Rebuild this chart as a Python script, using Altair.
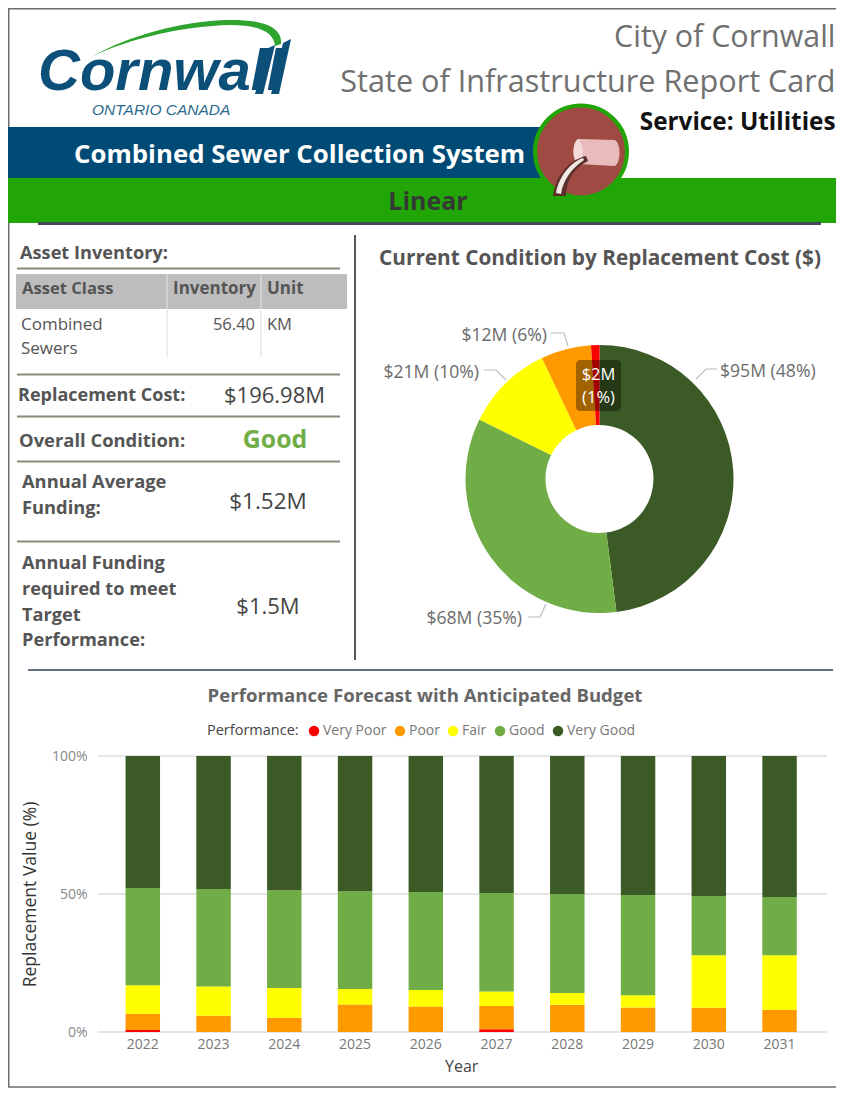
import re
import altair as alt
import pandas as pd

# ---------- data ----------
years = ["2022","2023","2024","2025","2026","2027","2028","2029","2030","2031"]
levels = ["Very Poor","Poor","Fair","Good","Very Good"]
colors = ["#ff0000","#ff9900","#ffff00","#70ad47","#3b5a25"]
very_poor = [0.7,0,0,0,0,1.0,0,0,0,0]
poor = [5.9,5.9,5.2,10.0,9.2,8.4,9.9,8.9,8.8,8.1]
fair = [10.3,10.6,10.7,5.6,6.0,5.3,4.2,4.4,19.0,19.7]
good = [35.3,35.3,35.5,35.4,35.5,35.7,35.9,36.3,21.5,21.1]
very_good = [47.8,48.2,48.6,49.0,49.3,49.6,50.0,50.4,50.7,51.1]
donut_levels = ["Very Good","Good","Fair","Poor","Very Poor"]
donut_values = [95,68,21,12,2]
grid_ticks = [0,50,100]

FONT = "Open Sans"
LOGO = "Liberation Sans"
W, H = 828, 1080
O = 8
RIGHT = O + W  # last page pixel the chart can paint


def X(x):
    return x - O


def Y(y):
    return y - O


def one():
    return alt.Data(values=[{"a": 1}])


def txt(s, x, y, size, color="#555555", weight="normal", align="left", font=FONT, style="normal"):
    return alt.Chart(one()).mark_text(
        text=s, fontSize=size, color=color, fontWeight=weight, align=align,
        baseline="middle", font=font, fontStyle=style
    ).encode(x=alt.value(X(x)), y=alt.value(Y(y + 1.5)))


def rect(x0, x1, y0, y1, color, opacity=1.0, radius=0):
    return alt.Chart(one()).mark_rect(color=color, opacity=opacity, cornerRadius=radius).encode(
        x=alt.value(X(x0)), x2=alt.value(X(x1)), y=alt.value(Y(y0)), y2=alt.value(Y(y1)))


def hline(x0, x1, y, color, w):
    return alt.Chart(one()).mark_rule(color=color, strokeWidth=w).encode(
        x=alt.value(X(x0)), x2=alt.value(X(x1)), y=alt.value(Y(y)))


def vline(x, y0, y1, color, w):
    return alt.Chart(one()).mark_rule(color=color, strokeWidth=w).encode(
        x=alt.value(X(x)), y=alt.value(Y(y0)), y2=alt.value(Y(y1)))


def P(p):
    return re.sub(r"(\d+(?:\.\d+)?),(\d+(?:\.\d+)?)",
                  lambda m: f"{X(float(m[1])):.2f},{Y(float(m[2])):.2f}", p)


def fill_path(p, color):
    return alt.Chart(one()).mark_point(shape=P(p), size=4, filled=True, color=color, opacity=1, strokeWidth=0).encode(
        x=alt.value(0), y=alt.value(0))


def line_path(p, color, w=1.2):
    return alt.Chart(one()).mark_point(shape=P(p), size=4, filled=False, color=color, opacity=1, strokeWidth=w).encode(
        x=alt.value(0), y=alt.value(0))


layers = []
BLUE = "#004b76"
GREEN = "#22a506"
RULE = "#8b8a7a"
FRAME = "#6b6b6b"
BOTTOM = O + H - 1
# frame
layers += [vline(8.7, 8, BOTTOM, FRAME, 1.5), hline(8, RIGHT, 8.7, FRAME, 1.5), hline(8, RIGHT, BOTTOM, FRAME, 1.5)]

# logo
layers += [
    fill_path("M91,57 C130,35 180,22 225,20 C260,19 283,26 281,44 L275,46 C274,32 258,25 230,25 C185,26 130,38 91,57 Z", "#2fa52f"),
    txt("Cornwall", 38, 71.5, 58, "#0c4f78", "bold", font=LOGO, style="italic"),
    fill_path("M255,94 L266,49 L275,45 L263,94 Z", "#0c4f78"),
    fill_path("M271,94 L283,43 L291,39 L279,94 Z", "#0c4f78"),
    txt("ONTARIO CANADA", 92, 108.5, 15.5, "#2d6a90", font=LOGO, style="italic"),
]
# header text
layers += [
    txt("City of Cornwall", RIGHT - 0.5, 36, 30.4, "#707070", align="right"),
    txt("State of Infrastructure Report Card", RIGHT - 0.5, 81, 30.6, "#707070", align="right"),
    txt("Service: Utilities", RIGHT - 0.5, 121, 24.3, "#111111", "bold", align="right"),
    rect(8, 560, 127, 178, BLUE),
    rect(8, RIGHT, 178, 223, GREEN),
    hline(38, 821, 223.5, "#3f4a5c", 3),
    txt("Combined Sewer Collection System", 74, 153, 25.8, "#ffffff", "bold"),
    txt("Linear", 428, 200, 25, "#333a33", "bold", align="center"),
]
# round icon
layers += [
    alt.Chart(one()).mark_point(shape="circle", size=8450, filled=True, color="#a04a44", opacity=1,
                                stroke=GREEN, strokeWidth=4).encode(x=alt.value(X(581)), y=alt.value(Y(151.5))),
    fill_path("M578,139 L615,140 C621,144 621,162 615,166 L578,164 C572,160 572,143 578,139 Z", "#e9bcbc"),
    fill_path("M578,139 C584,143 584,160 578,164 C572,160 572,143 578,139 Z", "#f3d9d9"),
    fill_path("M586,156 C570,160 556,174 553,196 L566,196 C566,180 574,168 588,161 Z", "#5a2f2c"),
    fill_path("M583,158 C571,162 559,176 556,193 L561,194 C563,180 572,168 584,160 Z", "#f1e9e4"),
]

# left panel
layers += [
    vline(355, 235, 660, "#555555", 2),
    txt("Asset Inventory:", 20, 252, 18.2, weight="bold"),
    hline(17, 340, 268.5, RULE, 2),
    rect(16, 347, 274, 309, "#bdbdbd"),
    txt("Asset Class", 22, 287, 16.6, weight="bold"),
    txt("Inventory", 173, 287, 17, weight="bold"),
    txt("Unit", 267, 287, 17, weight="bold"),
    vline(167, 274, 309, "#e6e6e6", 1), vline(261, 274, 309, "#e6e6e6", 1),
    vline(167, 309, 357, "#dddddd", 1), vline(261, 309, 357, "#dddddd", 1),
    txt("Combined", 21, 323, 17), txt("Sewers", 21, 347, 17),
    txt("56.40", 255, 323, 16.5, align="right"), txt("KM", 267, 323, 16.5),
    hline(17, 340, 374.5, RULE, 2),
    txt("Replacement Cost:", 18, 394, 18, weight="bold"),
    txt("$196.98M", 274.5, 394, 22, "#444444", align="center"),
    hline(17, 340, 416.5, RULE, 2),
    txt("Overall Condition:", 19, 439, 18.4, weight="bold"),
    txt("Good", 275, 439, 24.8, "#70ad47", "bold", align="center"),
    hline(17, 340, 461.5, RULE, 2),
    txt("Annual Average", 22, 481, 18.3, weight="bold"), txt("Funding:", 22, 507, 18.3, weight="bold"),
    txt("$1.52M", 268, 500, 22.5, "#444444", align="center"),
    hline(17, 340, 541.5, RULE, 2),
    txt("Annual Funding", 22, 562, 18.2, weight="bold"), txt("required to meet", 22, 588, 18.2, weight="bold"),
    txt("Target", 22, 614, 18.2, weight="bold"), txt("Performance:", 22, 639, 18.2, weight="bold"),
    txt("$1.5M", 268, 605, 22, "#444444", align="center"),
]

# donut
color_scale = alt.Scale(domain=levels, range=colors)
legend = alt.Legend(
    title="Performance:", orient="none", direction="horizontal", legendX=X(207), legendY=Y(724),
    titleOrient="left", titleFont=FONT, titleFontSize=14.5, titleFontWeight="normal", titleColor="#444444",
    labelFont=FONT, labelFontSize=14, labelColor="#777777", symbolType="circle", symbolSize=110,
    symbolStrokeWidth=0, columnPadding=6, labelOffset=2, padding=0, titlePadding=8)
donut_df = pd.DataFrame({"Performance": donut_levels, "value": donut_values, "k": range(5)})
layers.append(
    alt.Chart(donut_df).mark_arc(radius=134, radius2=54).encode(
        theta=alt.Theta("value:Q", stack=True),
        order=alt.Order("k:Q"),
        color=alt.Color("Performance:N", scale=color_scale, legend=legend),
        x=alt.value(X(599.5)), y=alt.value(Y(479)),
    )
)
LEAD = "#bdbdbd"
LBL = "#6b6b6b"
layers += [
    txt("Current Condition by Replacement Cost ($)", 600, 257, 20.8, weight="bold", align="center"),
    line_path("M551,333 L564,333 L568,346", LEAD),
    line_path("M484,370 L496,370 L506,380", LEAD),
    line_path("M717,369 L706,369 L696,379", LEAD),
    line_path("M528,617 L540,617 L546,604", LEAD),
    txt("$12M (6%)", 547, 334, 17.6, LBL, align="right"),
    txt("$21M (10%)", 479, 371, 17.6, LBL, align="right"),
    txt("$95M (48%)", 720, 370, 17.6, LBL),
    txt("$68M (35%)", 522, 617, 17.6, LBL, align="right"),
    rect(576, 621, 360, 411, "#000000", 0.36, 4),
    txt("$2M", 598.5, 373.5, 16.5, "#ffffff", align="center"),
    txt("(1%)", 598.5, 396.5, 16.5, "#ffffff", align="center"),
]

# stacked bars
layers += [
    hline(28, 833, 670, "#667080", 2),
    txt("Performance Forecast with Anticipated Budget", 425, 694, 18.6, "#666666", "bold", align="center"),
]
CX0, STEP = 142.8, 70.75
x_scale = alt.Scale(domain=years, range=[X(CX0 - STEP / 2), X(CX0 + 9.5 * STEP)], paddingInner=0.513, paddingOuter=0.2565)
y_scale = alt.Scale(domain=[0, 100], range=[Y(1032), Y(756)])
y_axis = alt.Axis(
    title="Replacement Value (%)", orient="left", offset=-X(87), values=grid_ticks,
    labelExpr="datum.value + '%'", ticks=False, domain=False, grid=False,
    labelFont=FONT, labelFontSize=14, labelColor="#888888", labelPadding=0,
    titleFont=FONT, titleFontSize=17.5, titleFontWeight="normal", titleColor="#333333", titlePadding=12)
grid_df = pd.DataFrame({"tick": grid_ticks})
layers.append(
    alt.Chart(grid_df).mark_rule(color="#dcdcdc", strokeWidth=1.5).encode(
        y=alt.Y("tick:Q", scale=y_scale, axis=y_axis),
        x=alt.value(X(98)), x2=alt.value(X(827)),
    )
)
series = [very_poor, poor, fair, good, very_good]
rows = []
for k, (lev, vals) in enumerate(zip(levels, series)):
    for yr, v in zip(years, vals):
        rows.append({"Year": yr, "Performance": lev, "value": v, "k": k})
bars_df = pd.DataFrame(rows)
layers.append(
    alt.Chart(bars_df).mark_bar().encode(
        x=alt.X("Year:N", scale=x_scale, axis=alt.Axis(
            title="Year", orient="bottom", offset=-(H - Y(1032)), labelAngle=0, ticks=False, domain=False, grid=False,
            labelFont=FONT, labelFontSize=14, labelColor="#777777", labelPadding=5,
            titleFont=FONT, titleFontSize=16, titleFontWeight="normal", titleColor="#444444", titlePadding=7)),
        y=alt.Y("value:Q", stack="zero", scale=y_scale, axis=y_axis),
        order=alt.Order("k:Q"),
        color=alt.Color("Performance:N", scale=color_scale, legend=legend),
    )
)

chart = alt.layer(*layers).properties(
    width=W, height=H, padding=0, autosize=alt.AutoSizeParams(type="none")
).configure_view(stroke=None)

chart.save("out.html", embed_options={"renderer": "svg", "actions": False})
